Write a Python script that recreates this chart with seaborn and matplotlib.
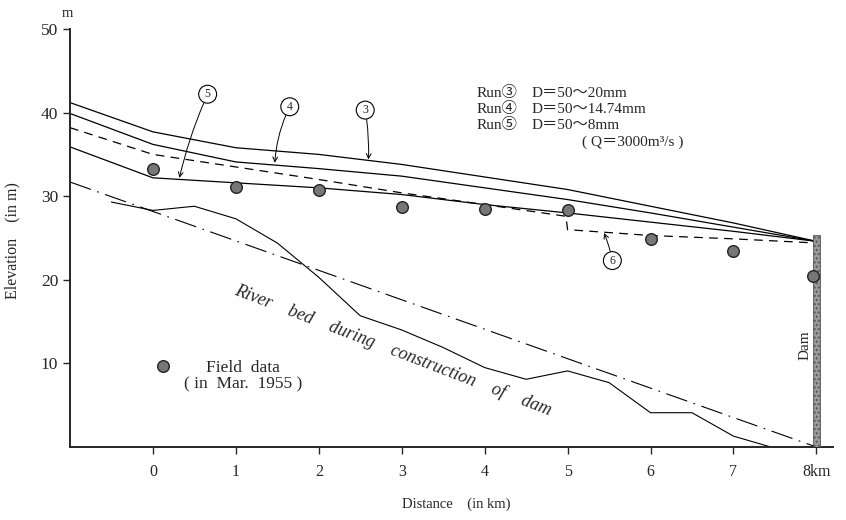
import matplotlib
matplotlib.use("Agg")
import matplotlib.pyplot as plt
import seaborn as sns
import pandas as pd

# ---------------- data ----------------
km = [-1, 0, 1, 2, 3, 4, 5, 6, 7, 8]
run3 = [41.2, 37.7, 35.8, 35.0, 33.8, 32.3, 30.8, 28.8, 26.8, 24.6]
run4 = [39.9, 36.2, 34.1, 33.3, 32.4, 31.0, 29.6, 28.0, 26.3, 24.6]
run5 = [35.9, 32.2, 31.6, 31.0, 30.2, 29.0, 28.0, 26.9, 25.8, 24.6]
run6_km = [-1, 0, 1, 2, 3, 4, 4.98, 5.0, 6, 7, 8]
run6 = [38.2, 35.0, 33.5, 32.0, 30.4, 29.0, 27.6, 26.0, 25.3, 24.9, 24.4]

river_km = [-0.5, 0, 0.5, 1, 1.5, 2, 2.5, 3, 3.5, 4, 4.5, 5, 5.5, 6, 6.5, 7, 7.45]
river = [29.3, 28.3, 28.8, 27.3, 24.4, 20.3, 15.7, 14.0, 11.9, 9.5, 8.1, 9.1, 7.7, 4.1, 4.1, 1.3, 0.0]

constr_km = [-1, 8]
constr = [31.7, 0.0]

field_km = [0, 1, 2, 3, 4, 5, 6, 7, 7.96]
field = [33.3, 31.1, 30.7, 28.7, 28.5, 28.3, 24.9, 23.5, 20.5]

dam_km = 8
dam_top = 25.3

xticks = [0, 1, 2, 3, 4, 5, 6, 7, 8]
xticklabels = ["0", "1", "2", "3", "4", "5", "6", "7", "8km"]
yticks = [10, 20, 30, 40, 50]
yticklabels = ["10", "20", "30", "40", "50"]

run_names = ["Run③", "Run④", "Run⑤"]
run_sizes = ["D＝50～20mm", "D＝50～14.74mm", "D＝50～8mm"]

# ---------------- style ----------------
sns.set_style("ticks")
plt.rcParams["font.family"] = ["Liberation Serif", "Noto Sans CJK JP", "DejaVu Sans"]
plt.rcParams["axes.linewidth"] = 1.4

fig = plt.figure(figsize=(8.46, 5.2), dpi=100)
ax = fig.add_axes([0.0827, 0.1404, 0.9019, 0.8038])

lw = 0.9
sns.lineplot(x=km, y=run3, ax=ax, color="black", lw=lw, sort=False, estimator=None)
sns.lineplot(x=km, y=run4, ax=ax, color="black", lw=lw, sort=False, estimator=None)
sns.lineplot(x=km, y=run5, ax=ax, color="black", lw=lw, sort=False, estimator=None)
sns.lineplot(x=run6_km, y=run6, ax=ax, color="black", lw=lw, sort=False,
             estimator=None, linestyle=(0, (7, 5)))
sns.lineplot(x=river_km, y=river, ax=ax, color="black", lw=0.8, sort=False, estimator=None)
sns.lineplot(x=constr_km, y=constr, ax=ax, color="black", lw=0.8, sort=False,
             estimator=None, linestyle=(0, (20, 6, 1.5, 6)))

# dam
ax.bar([dam_km], [dam_top], width=0.09, color="#9a9a9a", edgecolor="#555555",
       linewidth=0.6, hatch="....", zorder=3)

# field data
sns.scatterplot(x=field_km, y=field, ax=ax, s=70, color="#777777",
                edgecolor="#222222", linewidth=1.0, zorder=4)
sns.scatterplot(x=[0.12], y=[9.7], ax=ax, s=70, color="#777777",
                edgecolor="#222222", linewidth=1.0, zorder=4)

# axes
ax.set_xlim(-1, 8.2)
ax.set_ylim(0, 50)
ax.set_xticks(xticks)
ax.set_xticklabels(xticklabels, fontsize=11.5)
ax.set_yticks(yticks)
ax.set_yticklabels(yticklabels, fontsize=12.5)
ax.tick_params(axis="both", direction="out", length=5, width=1.0)
ax.tick_params(axis="x", pad=7)
sns.despine(ax=ax)
ax.set_xlabel("Distance    (in km)", fontsize=10.5)
ax.set_ylabel("Elevation    (in m)", fontsize=11.5)
ax.xaxis.set_label_coords(0.506, -0.12)
ax.yaxis.set_label_coords(-0.0655, 0.495)
ax.text(-1.03, 51.9, "m", fontsize=10.5, ha="center", va="center")

# annotation block
for i, (nm, sz) in enumerate(zip(run_names, run_sizes)):
    yy = 42.3 - 1.9 * i
    ax.text(3.9, yy, nm, fontsize=11, ha="left", va="center")
    ax.text(4.57, yy, sz, fontsize=11, ha="left", va="center")
ax.text(5.17, 36.4, "( Q＝3000m³/s )", fontsize=11, ha="left", va="center")

# circled labels with arrows
circ = dict(boxstyle="circle,pad=0.25", fc="white", ec="black", lw=0.8)
ap = dict(arrowstyle="->", lw=0.7, color="black", shrinkA=0, shrinkB=0)
ax.annotate("5", xy=(0.32, 32.2), xytext=(0.66, 42.2), fontsize=8.5, ha="center", va="center",
            bbox=circ, arrowprops=dict(ap, connectionstyle="arc3,rad=0.05"))
ax.annotate("4", xy=(1.47, 34.0), xytext=(1.65, 40.7), fontsize=8.5, ha="center", va="center",
            bbox=circ, arrowprops=dict(ap, connectionstyle="arc3,rad=0.1"))
ax.annotate("3", xy=(2.6, 34.4), xytext=(2.56, 40.3), fontsize=8.5, ha="center", va="center",
            bbox=circ, arrowprops=dict(ap, connectionstyle="arc3,rad=-0.05"))
ax.annotate("6", xy=(5.44, 25.6), xytext=(5.54, 22.3), fontsize=8.5, ha="center", va="center",
            bbox=circ, arrowprops=dict(ap, connectionstyle="arc3,rad=0.05"))

# other texts
ax.text(1.09, 8.45, "Field  data\n( in  Mar.  1955 )", fontsize=12.5, ha="center",
        va="center", linespacing=1.0)
ax.text(2.89, 11.6, "River    bed    during    construction    of    dam", fontsize=13,
        style="italic", rotation=-21, ha="center", va="center", rotation_mode="anchor")
ax.text(7.86, 12.2, "Dam", fontsize=11, rotation=90, ha="center", va="center")

fig.savefig("out.png", dpi=100, facecolor="white")
